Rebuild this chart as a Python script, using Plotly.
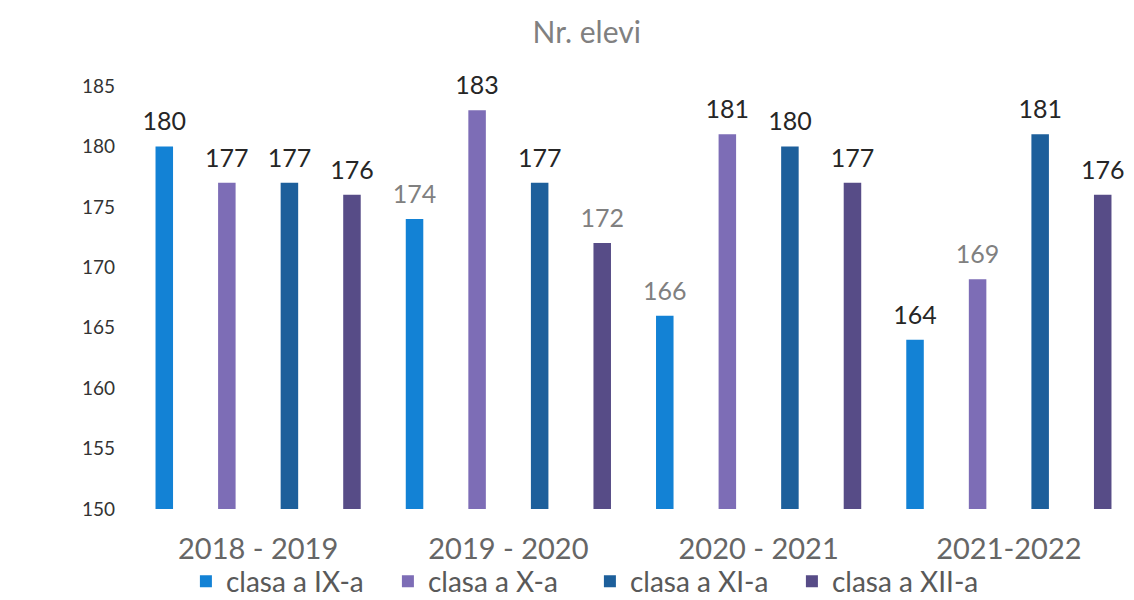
import plotly.graph_objects as go

categories = ["2018 - 2019", "2019 - 2020", "2020 - 2021", "2021-2022"]
series_names = ["clasa a IX-a", "clasa a X-a", "clasa a XI-a", "clasa a XII-a"]
ix_values = [180, 174, 166, 164]
x_values = [177, 183, 181, 169]
xi_values = [177, 177, 180, 181]
xii_values = [176, 172, 177, 176]
y_ticks = [150, 155, 160, 165, 170, 175, 180, 185]

DARK = "#262626"
GRAY = "#808080"
ix_label_colors = [DARK, GRAY, GRAY, DARK]
x_label_colors = [DARK, DARK, DARK, GRAY]
xi_label_colors = [DARK, DARK, DARK, DARK]
xii_label_colors = [DARK, GRAY, DARK, DARK]

bar_colors = ["#1382d5", "#7d6db6", "#1d5f9b", "#574c87"]
all_values = [ix_values, x_values, xi_values, xii_values]
all_label_colors = [ix_label_colors, x_label_colors, xi_label_colors, xii_label_colors]

FONT = "Lato, Open Sans, sans-serif"

fig = go.Figure()
for i, (name, vals, col) in enumerate(zip(series_names, all_values, bar_colors)):
    fig.add_trace(go.Bar(
        x=categories, y=vals, name=name,
        marker=dict(color=col, line=dict(width=0)),
        offsetgroup=str(i), alignmentgroup="a",
    ))
for i, (name, vals, lc) in enumerate(zip(series_names, all_values, all_label_colors)):
    fig.add_trace(go.Scatter(
        x=categories, y=vals, mode="markers+text", showlegend=False,
        marker=dict(size=14, opacity=0),
        text=[str(v) for v in vals], textposition="top center",
        textfont=dict(size=25, color=lc, family=FONT),
        offsetgroup=str(i), alignmentgroup="a",
        cliponaxis=False, hoverinfo="skip",
    ))

fig.update_layout(
    width=1126, height=592,
    paper_bgcolor="white", plot_bgcolor="white",
    margin=dict(l=125, r=0, t=78, b=91, autoexpand=False),
    barmode="group", bargap=0.0, bargroupgap=0.72,
    scattermode="group", scattergap=0.0,
    font=dict(family=FONT),
    title=dict(text="Nr. elevi", x=0.514, xref="container", y=0.958, yref="container",
               xanchor="center", yanchor="middle", automargin=False,
               font=dict(size=30, color="#808080", family=FONT)),
    showlegend=True,
    legend=dict(orientation="h", xref="container", yref="container",
                x=0.158, y=0.031, xanchor="left", yanchor="middle",
                bgcolor="rgba(0,0,0,0)",
                font=dict(size=28, color="#595959", family=FONT),
                itemwidth=30, entrywidth=157, tracegroupgap=0),
    yaxis=dict(range=[150, 185], tickvals=y_ticks, showgrid=False, zeroline=False,
               showline=False, tickfont=dict(size=19, color="#333333", family=FONT),
               ticks="", ticklabelstandoff=17, automargin=False),
    xaxis=dict(showgrid=False, showline=False, ticks="", automargin=False,
               tickfont=dict(size=29, color="#666666", family=FONT),
               ticklabelstandoff=20),
)

fig.write_html("out.html")
